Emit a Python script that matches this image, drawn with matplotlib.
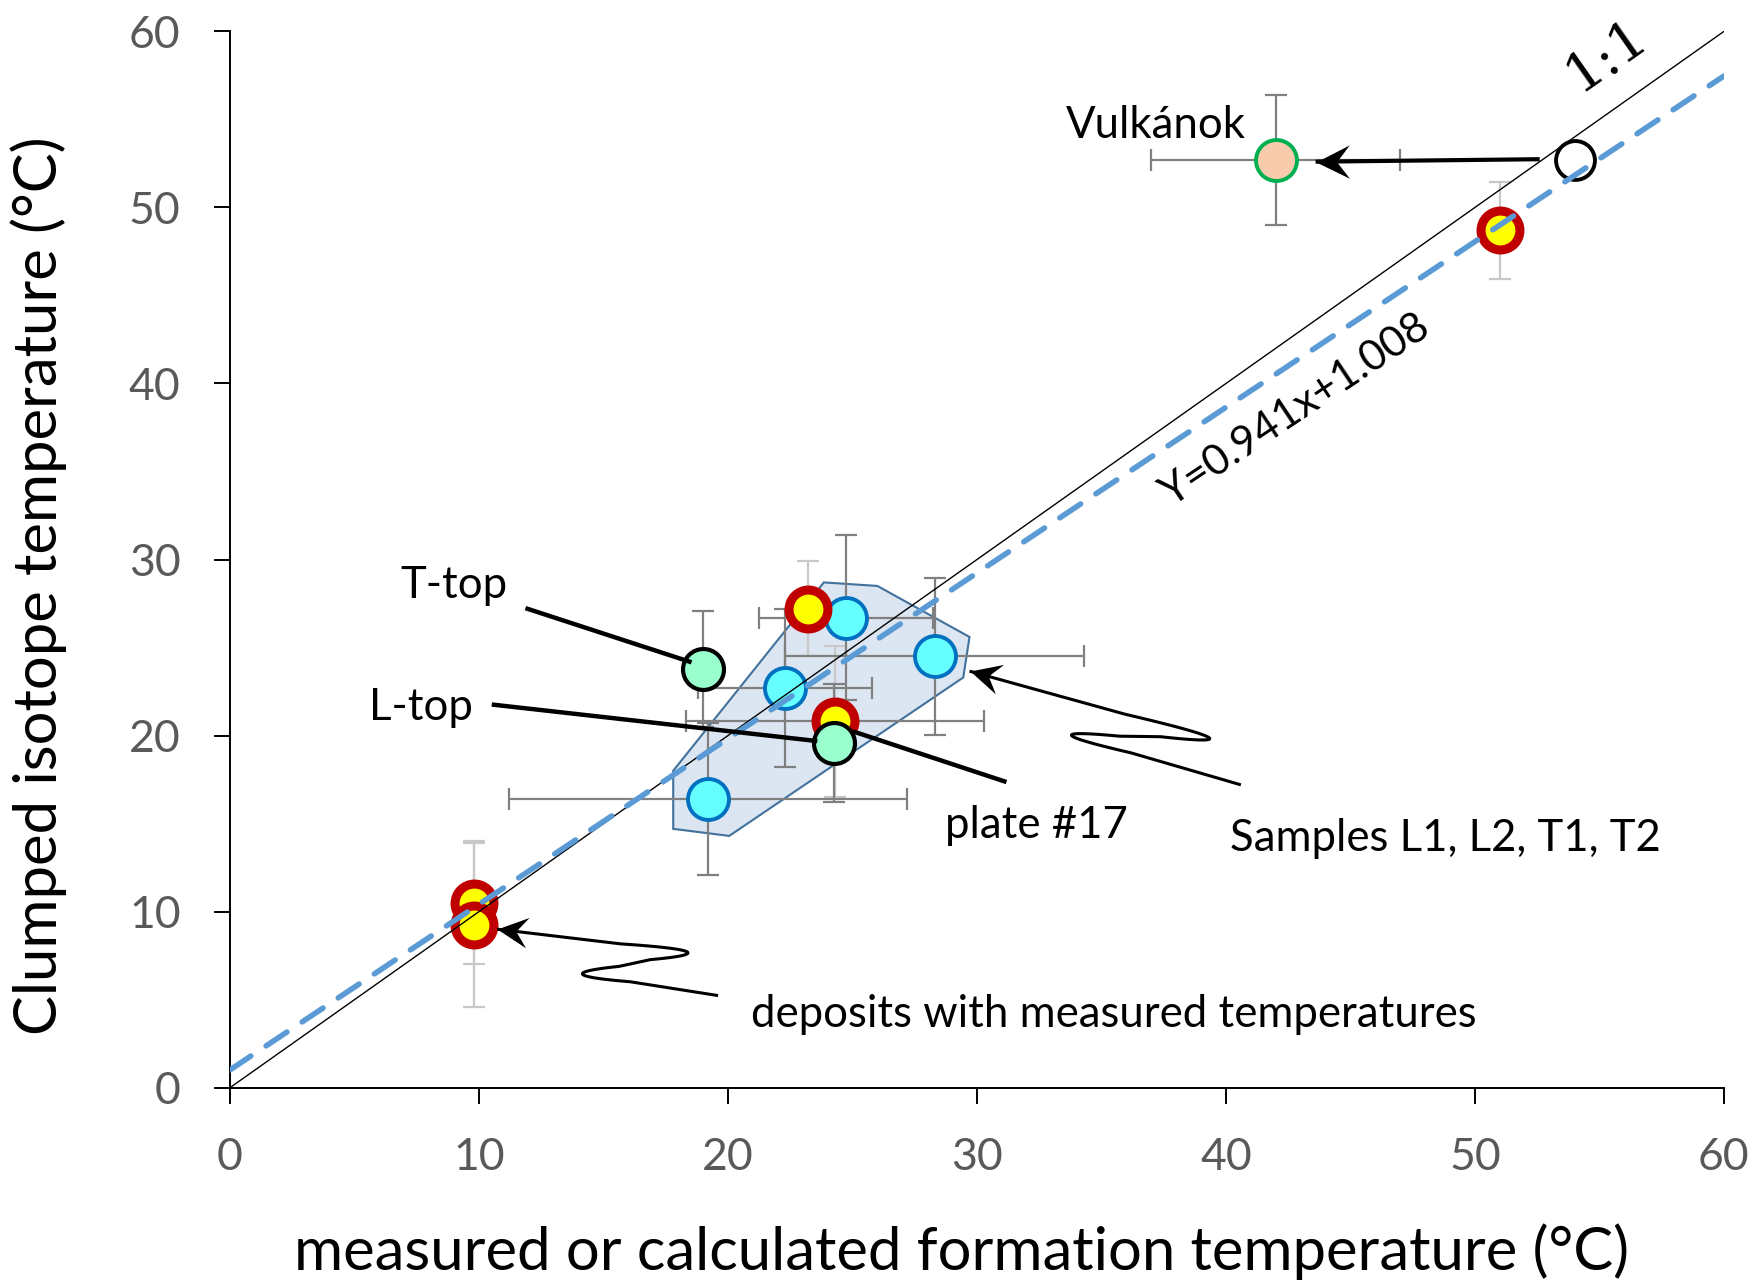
import numpy as np
import matplotlib
matplotlib.use("Agg")
import matplotlib.pyplot as plt
from matplotlib.path import Path
from matplotlib.markers import MarkerStyle

plt.rcParams["font.family"] = ["Lato", "DejaVu Sans"]

# deposits with measured temperatures (red / yellow)
dep_x = [9.8, 9.8, 23.2, 24.3, 51.0]
dep_y = [10.5, 9.25, 27.2, 20.8, 48.7]
dep_xerr = [0.3, 0.3, 0.0, 6.0, 0.0]
dep_yerr = [3.5, 4.65, 2.7, 4.3, 2.75]

# samples L1, L2, T1, T2 (cyan)
smp_x = [19.2, 22.3, 24.75, 28.3]
smp_y = [16.4, 22.7, 26.7, 24.5]
smp_xerr = [8.0, 3.5, 3.5, 6.0]
smp_yerr = [4.3, 4.5, 4.7, 4.45]

# T-top and L-top (green)
top_x = [19.0, 24.25]
top_y = [23.8, 19.6]
top_xerr = [0.5, 0.5]
top_yerr = [3.3, 3.35]

# Vulkanok and its original position on the 1:1 line
vul_x, vul_y = [42.0], [52.7]
vul_xerr, vul_yerr = [5.0], [3.7]
orig_x, orig_y = [54.0], [52.7]

# regression fit
slope, intercept = 0.941, 1.008

# outline of the sample group
poly_x = [17.8, 23.85, 26.0, 29.7, 29.45, 20.05, 17.8]
poly_y = [18.0, 28.7, 28.5, 25.6, 23.3, 14.3, 14.7]

ticks = [0, 10, 20, 30, 40, 50, 60]

DARK = "#808080"
LIGHT = "#c8c8c8"

# notched ("stealth") arrow head, tip at the origin, pointing to +x
STEALTH = Path([(0, 0), (-1.0, 0.5), (-0.62, 0), (-1.0, -0.5), (0, 0)],
               [Path.MOVETO, Path.LINETO, Path.LINETO, Path.LINETO, Path.CLOSEPOLY])


def squiggle(start, a, b, tip, f=0.65):
    """Z shaped leader: start -> turn at a -> turn at b -> tip."""
    start, a, b, tip = map(np.array, (start, a, b, tip))
    p1 = start + f * (a - start)
    q1 = a + (1 - f) * (b - a)
    q2 = a + f * (b - a)
    r1 = b + (1 - f) * (tip - b)
    ca = 2 * a - (p1 + q1) / 2
    cb = 2 * b - (q2 + r1) / 2
    t = np.linspace(0, 1, 40)[:, None]
    c1 = (1 - t) ** 2 * p1 + 2 * (1 - t) * t * ca + t ** 2 * q1
    c2 = (1 - t) ** 2 * q2 + 2 * (1 - t) * t * cb + t ** 2 * r1
    pts = np.vstack([start, c1, c2, tip])
    return pts[:, 0], pts[:, 1]


def arrow(ax, xs, ys, lw=2.2, size=44):
    ax.plot(xs, ys, color="black", lw=lw, zorder=6, solid_capstyle="butt")
    p0 = ax.transData.transform((xs[-2], ys[-2]))
    p1 = ax.transData.transform((xs[-1], ys[-1]))
    ang = np.degrees(np.arctan2(p1[1] - p0[1], p1[0] - p0[0]))
    m = MarkerStyle(STEALTH).rotated(deg=ang)
    ax.plot([xs[-1]], [ys[-1]], marker=m, ms=size, color="black", mew=0, zorder=7)


fig = plt.figure(figsize=(17.6, 12.87), dpi=100)
ax = fig.add_axes([0.1307, 0.1549, 0.8488, 0.8207])
ax.set_xlim(0, 60)
ax.set_ylim(0, 60)

ax.fill(poly_x, poly_y, facecolor="#dce6f2", edgecolor="#41719c", lw=1.5, zorder=1)

ebar = dict(fmt="none", elinewidth=1.6, capsize=8, capthick=1.6, zorder=2)
ax.errorbar(dep_x, dep_y, yerr=dep_yerr, ecolor=LIGHT, **ebar)
ax.errorbar(dep_x, dep_y, xerr=dep_xerr, ecolor=DARK, **ebar)
ax.errorbar(smp_x, smp_y, xerr=smp_xerr, yerr=smp_yerr, ecolor=DARK, **ebar)
ax.errorbar(top_x, top_y, xerr=top_xerr, yerr=top_yerr, ecolor=DARK, **ebar)
ax.errorbar(vul_x, vul_y, xerr=vul_xerr, yerr=vul_yerr, ecolor=DARK, **ebar)

ax.plot(smp_x, smp_y, "o", ms=29.5, mfc="#66ffff", mec="#0070c0", mew=2.8, zorder=4)
ax.plot(dep_x, dep_y, "o", ms=28, mfc="#ffff00", mec="#c00000", mew=6.5, zorder=4)
ax.plot(top_x, top_y, "o", ms=29.5, mfc="#99ffcc", mec="black", mew=3, zorder=4)
ax.plot(vul_x, vul_y, "o", ms=29.5, mfc="#f8cbad", mec="#00b050", mew=2.8, zorder=4)
ax.plot(orig_x, orig_y, "o", ms=28, mfc="white", mec="black", mew=2.8, zorder=4)

xx = np.array([0, 60])
ax.plot(xx, xx, color="black", lw=1.0, zorder=5)
ax.plot(xx, slope * xx + intercept, color="#5b9bd5", lw=4.0, ls=(0, (4.5, 3.3)),
        dash_capstyle="round", zorder=5)

ax.text(55.3, 58.6, "1:1", rotation=35, fontsize=39, family="DejaVu Serif",
        ha="center", va="center", rotation_mode="anchor")
ax.text(42.8, 38.5, "Y=0.941x+1.008", rotation=33.7, fontsize=30.5,
        ha="center", va="center", rotation_mode="anchor")

lbl = dict(fontsize=31.5, ha="center", va="center", zorder=6)
ax.text(37.2, 54.65, "Vulkánok", **lbl)
ax.text(9.0, 28.5, "T-top", **lbl)
ax.text(7.66, 21.6, "L-top", **lbl)
ax.text(32.4, 14.9, "plate #17", **lbl)
ax.text(48.8, 14.15, "Samples L1, L2, T1, T2", **lbl)
ax.text(35.5, 4.15, "deposits with measured temperatures", **lbl)

ax.plot([11.95, 18.45], [27.2, 24.2], color="black", lw=3.2, zorder=6)
ax.plot([10.6, 23.5], [21.75, 19.7], color="black", lw=3.2, zorder=6)
ax.plot([31.1, 25.1], [17.4, 20.2], color="black", lw=3.2, zorder=6)

arrow(ax, [52.6, 43.6], [52.74, 52.6], lw=3.0, size=48)
arrow(ax, *squiggle((40.6, 17.2), (33.8, 20.0), (39.3, 19.9), (29.7, 23.66)))
arrow(ax, *squiggle((19.6, 5.23), (14.16, 6.44), (18.35, 7.72), (10.73, 9.0)))

ax.set_xticks(ticks)
ax.set_yticks(ticks)
ax.spines["top"].set_visible(False)
ax.spines["right"].set_visible(False)
for s in ("left", "bottom"):
    ax.spines[s].set_linewidth(1.4)
ax.tick_params(direction="out", length=11.5, width=1.4, pad=24, labelsize=32,
               labelcolor="#595959")

ax.set_xlabel("measured or calculated formation temperature (°C)", fontsize=43)
ax.set_ylabel("Clumped isotope temperature (°C)", fontsize=43)
ax.xaxis.set_label_coords(0.49, -0.128)
ax.yaxis.set_label_coords(-0.109, 0.475)

fig.savefig("out.png", dpi=100)
